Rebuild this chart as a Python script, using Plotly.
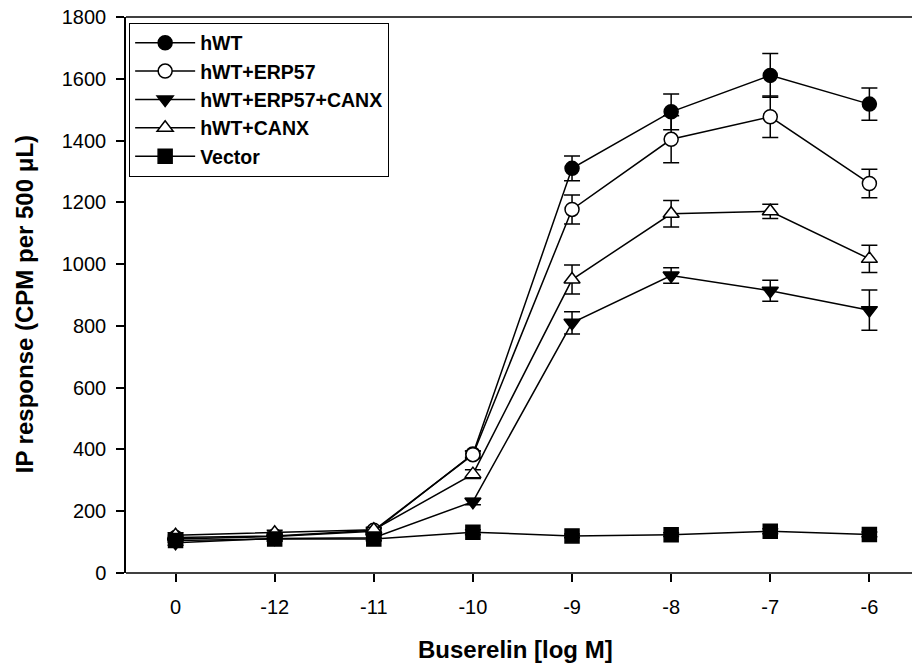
import plotly.graph_objects as go

categories = ["0", "-12", "-11", "-10", "-9", "-8", "-7", "-6"]

hwt = [110, 118, 135, 385, 1310, 1493, 1611, 1518]
hwt_err = [8, 8, 8, 10, 40, 58, 71, 52]

hwt_erp57 = [115, 120, 138, 383, 1177, 1404, 1477, 1261]
hwt_erp57_err = [8, 8, 8, 12, 47, 76, 67, 46]

hwt_erp57_canx = [98, 112, 114, 231, 810, 963, 914, 851]
hwt_erp57_canx_err = [8, 8, 8, 10, 36, 25, 34, 65]

hwt_canx = [122, 130, 140, 320, 950, 1163, 1171, 1017]
hwt_canx_err = [8, 8, 8, 14, 47, 43, 23, 44]

vector = [105, 110, 110, 132, 120, 124, 135, 125]
vector_err = [6, 6, 6, 8, 6, 6, 8, 8]

series = [
    ("hWT", hwt, hwt_err, "circle", "black"),
    ("hWT+ERP57", hwt_erp57, hwt_erp57_err, "circle", "white"),
    ("hWT+ERP57+CANX", hwt_erp57_canx, hwt_erp57_canx_err, "triangle-down", "black"),
    ("hWT+CANX", hwt_canx, hwt_canx_err, "triangle-up", "white"),
    ("Vector", vector, vector_err, "square", "black"),
]

fig = go.Figure()
for name, vals, errs, sym, fill in series:
    fig.add_trace(go.Scatter(
        x=categories, y=vals, name=name, mode="lines+markers",
        line=dict(color="black", width=1.5),
        marker=dict(symbol=sym, size=14, color=fill, line=dict(color="black", width=1.5)),
        error_y=dict(type="data", array=errs, visible=True, color="black", thickness=1.5, width=8),
    ))

font_family = "Liberation Sans, Arial, sans-serif"

fig.update_layout(
    width=912, height=669,
    margin=dict(l=126, r=0, t=17, b=96, pad=0),
    paper_bgcolor="white", plot_bgcolor="white",
    font=dict(family=font_family, color="black"),
    showlegend=True,
    legend=dict(
        x=0.004, y=0.99, xanchor="left", yanchor="top",
        bordercolor="black", borderwidth=1, bgcolor="white",
        font=dict(size=19.5, family=font_family, weight="bold"),
        itemwidth=60,
    ),
    xaxis=dict(
        type="category", range=[-0.5, 7.43], domain=[0, 1],
        showline=False, mirror=False,
        ticks="outside", ticklen=8, tickcolor="black", tickwidth=1.5,
        showgrid=False, zeroline=False,
        tickfont=dict(size=20), ticklabelstandoff=8,
    ),
    yaxis=dict(
        range=[0, 1800], tickvals=[0, 200, 400, 600, 800, 1000, 1200, 1400, 1600, 1800],
        showline=True, linecolor="black", linewidth=1.5, mirror=False,
        ticks="outside", ticklen=8, tickcolor="black", tickwidth=1.5,
        showgrid=False, zeroline=False,
        tickfont=dict(size=20), ticklabelstandoff=6,
    ),
    shapes=[
        dict(type="line", xref="paper", yref="paper", x0=0, x1=1.01, y0=0, y1=0,
             line=dict(color="black", width=1.5), layer="above"),
        dict(type="line", xref="paper", yref="paper", x0=0, x1=1.01, y0=1, y1=1,
             line=dict(color="black", width=1.5), layer="above"),
    ],
    annotations=[
        dict(text="Buserelin [log M]", xref="paper", yref="paper", x=0.495, y=-0.138,
             xanchor="center", yanchor="middle", showarrow=False,
             font=dict(size=24, family=font_family, weight="bold")),
        dict(text="IP response (CPM per 500 μL)", xref="paper", yref="paper", x=-0.128, y=0.484,
             xanchor="center", yanchor="middle", showarrow=False, textangle=-90,
             font=dict(size=24, family=font_family, weight="bold")),
    ],
)

fig.write_html("out.html", config={"displayModeBar": False})
